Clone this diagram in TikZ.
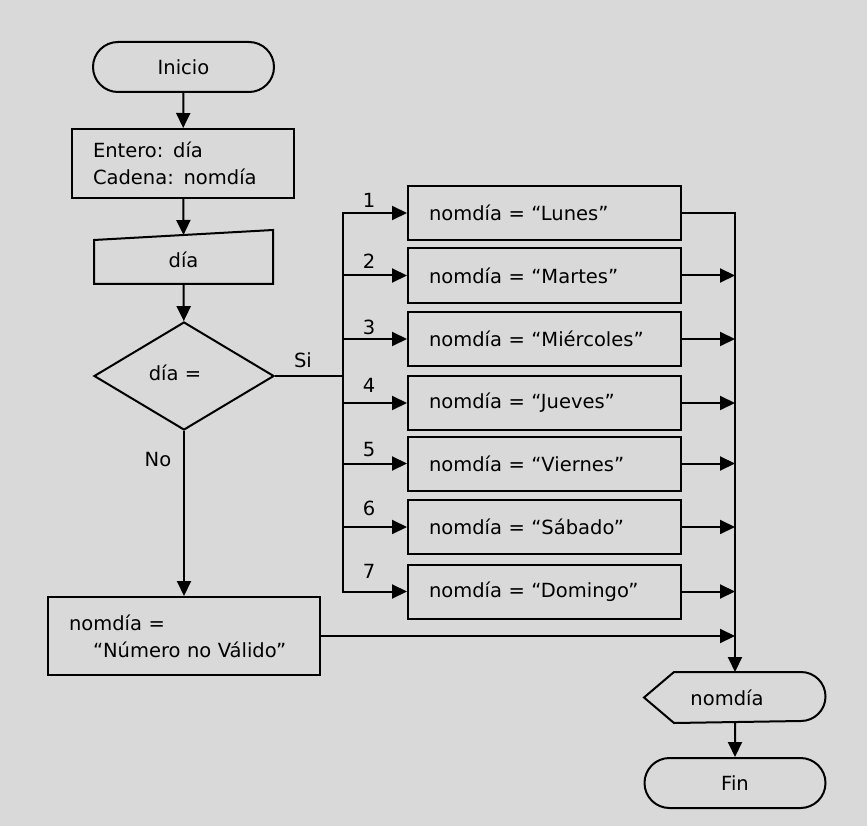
\documentclass[tikz,border=0pt]{standalone}
\usepackage{fontspec}
\setmainfont{DejaVu Sans}
\usetikzlibrary{arrows.meta,shapes.geometric,shapes.misc}
\definecolor{bg}{HTML}{D9D9D9}
\begin{document}
\begin{tikzpicture}[x=1pt,y=-1pt,
  line width=2pt,
  >={Triangle[length=15pt,width=14pt]},
  every node/.style={font=\fontsize{19.5}{27}\selectfont, inner sep=0pt},
  term/.style={draw, rounded rectangle, minimum width=181pt, minimum height=50pt},
  proc/.style={draw, rectangle, align=left, inner xsep=21pt, text width=#1},
  casebox/.style={proc=231pt, minimum height=54pt},
  lbl/.style={font=\fontsize{19.5}{22}\selectfont}
]
% page background
\path[fill=bg] (0,0) rectangle (867,826);

% main column
\node[term] (inicio) at (183.5,67) {Inicio};
\node[proc=180pt, minimum height=69pt] (decl) at (183,163.5) {Entero: día\\Cadena: nomdía};
\node[minimum width=177pt, minimum height=47pt] (leer) at (183.5,259.5) {día};
\draw ([yshift=-5pt]leer.north west) -- ([yshift=5pt]leer.north east)
      -- (leer.south east) -- (leer.south west) -- cycle;
\node[draw, diamond, aspect=1.67, minimum width=180pt, minimum height=108pt] (cond) at (184,376)
  {\raisebox{6pt}{día =}\hspace*{18pt}};
\node[proc=230pt, minimum height=78pt] (invalido) at (184,636)
  {nomdía =\\\hspace*{24pt}“Número no Válido”};

\draw[->] (inicio) -- (decl);
\draw[->] (decl) -- (leer.north);
\draw[->] (leer) -- (cond);
\draw[->] (cond) -- (invalido);
\node[lbl] (no) at (158,460) {No};
\node[lbl] (si) at (303,360) {Si};

% one box per day
\node[casebox] (b1) at (544.5,213)   {nomdía = “Lunes”};
\node[casebox] (b2) at (544.5,275.5) {nomdía = “Martes”};
\node[casebox] (b3) at (544.5,339)   {nomdía = “Miércoles”};
\node[casebox] (b4) at (544.5,403)   {nomdía = “Jueves”};
\node[casebox] (b5) at (544.5,463.5) {nomdía = “Viernes”};
\node[casebox] (b6) at (544.5,527)   {nomdía = “Sábado”};
\node[casebox] (b7) at (544.5,591.5) {nomdía = “Domingo”};

% case numbers
\node[lbl] (n1) at (369,200) {1};
\node[lbl] (n2) at (369,261) {2};
\node[lbl] (n3) at (369,327) {3};
\node[lbl] (n4) at (369,385) {4};
\node[lbl] (n5) at (369,450) {5};
\node[lbl] (n6) at (369,508) {6};
\node[lbl] (n7) at (369,571) {7};

% distribution bus
\coordinate (xbus) at (343,0);
\draw (cond.east) -- (cond.east -| xbus);
\draw[<->] (b1.west) -- (b1.west -| xbus) -- (b7.west -| xbus) -- (b7.west);
\foreach \b in {b2,b3,b4,b5,b6}
  \draw[->] (\b.west -| xbus) -- (\b.west);

% output and end
\node[minimum width=180pt, minimum height=49pt] (out) at (735,697.5) {nomdía\hspace*{16pt}};
\draw (out.west) -- ([xshift=30pt]out.north west) -- ([xshift=-25pt]out.north east)
      arc[start angle=90, end angle=-90, radius=24.5pt]
      -- ([xshift=30pt]out.south west) -- cycle;
\node[term] (fin) at (735,783) {Fin};

% collecting line
\draw[->] (b1.east) -- (b1.east -| out.north) -- (out.north);
\foreach \b in {b2,b3,b4,b5,b6,b7,invalido}
  \draw[->] (\b.east) -- (\b.east -| out.north);
\draw[->] (out) -- (fin);
\end{tikzpicture}
\end{document}
